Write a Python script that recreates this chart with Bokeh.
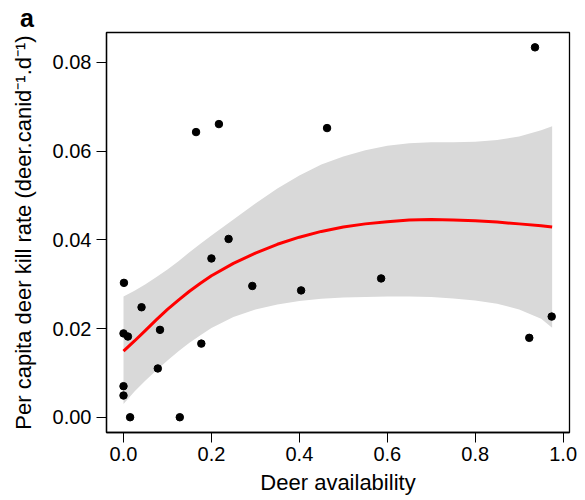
from bokeh.plotting import figure
from bokeh.models import Range1d, FixedTicker, NumeralTickFormatter, ColumnDataSource
from bokeh.embed import file_html
from bokeh.resources import INLINE

# ---- data ----
deer_avail = [0.001, 0.041, 0.000, 0.010, 0.083, 0.200, 0.293, 0.404, 0.177, 0.078,
              0.000, 0.000, 0.015, 0.128, 0.165, 0.217, 0.239, 0.936, 0.463, 0.586,
              0.923, 0.974]
kill_rate = [0.0303, 0.0248, 0.0189, 0.0182, 0.0197, 0.0358, 0.0296, 0.0286, 0.0166, 0.0110,
             0.0070, 0.0049, 0.0000, 0.0000, 0.0643, 0.0661, 0.0402, 0.0834, 0.0652, 0.0313,
             0.0179, 0.0227]

fit_x = [0.0, 0.025, 0.05, 0.075, 0.10, 0.125, 0.15, 0.175, 0.20, 0.25, 0.30, 0.35, 0.40, 0.45, 0.50,
         0.55, 0.60, 0.65, 0.70, 0.75, 0.80, 0.85, 0.90, 0.95, 0.975]
fit_y = [0.0149, 0.0172, 0.0196, 0.0220, 0.0243, 0.0264, 0.0284, 0.0302, 0.0319, 0.0347, 0.0370,
         0.0390, 0.0406, 0.0419, 0.0429,
         0.0436, 0.0441, 0.0445, 0.0446, 0.0445, 0.0443, 0.0440, 0.0436, 0.0432, 0.0429]
ci_upper = [0.0272, 0.0285, 0.0300, 0.0316, 0.0333, 0.0352, 0.0372, 0.0391, 0.0410, 0.0446, 0.0482,
            0.0516, 0.0545, 0.0570, 0.0588,
            0.0602, 0.0612, 0.0618, 0.0620, 0.0620, 0.0621, 0.0625, 0.0633, 0.0647, 0.0656]
ci_lower = [0.0030, 0.0058, 0.0083, 0.0106, 0.0128, 0.0149, 0.0168, 0.0185, 0.0201, 0.0226, 0.0243,
            0.0254, 0.0262, 0.0267, 0.0270,
            0.0271, 0.0272, 0.0272, 0.0271, 0.0268, 0.0263, 0.0256, 0.0243, 0.0222, 0.0202]

x_ticks = [0.0, 0.2, 0.4, 0.6, 0.8, 1.0]
y_ticks = [0.00, 0.02, 0.04, 0.06, 0.08]

FONT = "Liberation Sans"

p = figure(width=580, height=500, output_backend="svg", toolbar_location=None,
           x_range=Range1d(-0.0387, 1.0145), y_range=Range1d(-0.00344, 0.08675),
           min_border_left=106, min_border_right=11, min_border_top=31, min_border_bottom=68)

p.background_fill_color = "white"
p.border_fill_color = "white"
p.outline_line_color = "black"
p.outline_line_width = 1.3
p.xgrid.visible = False
p.ygrid.visible = False

band = ColumnDataSource(dict(x=fit_x, lo=ci_lower, hi=ci_upper, y=fit_y))
p.varea(x="x", y1="lo", y2="hi", source=band, fill_color="#d9d9d9", fill_alpha=1.0)
p.line(x="x", y="y", source=band, line_color="#ff0000", line_width=3)
p.scatter(deer_avail, kill_rate, size=7.5, fill_color="black", line_color="black")

for ax in (p.xaxis[0], p.yaxis[0]):
    ax.axis_line_color = "black"
    ax.axis_line_width = 1.3
    ax.major_tick_line_color = "black"
    ax.minor_tick_line_color = None
    ax.major_tick_out = 10
    ax.major_tick_in = 0
    ax.major_label_text_font = FONT
    ax.major_label_text_font_size = "20px"
    ax.major_label_text_color = "black"
    ax.axis_label_text_font = FONT
    ax.axis_label_text_font_size = "22px"
    ax.axis_label_text_font_style = "normal"
    ax.axis_label_text_color = "black"

p.xaxis.ticker = FixedTicker(ticks=x_ticks)
p.yaxis.ticker = FixedTicker(ticks=y_ticks)
p.xaxis.formatter = NumeralTickFormatter(format="0.0")
p.yaxis.formatter = NumeralTickFormatter(format="0.00")
p.xaxis.major_label_standoff = 4
p.yaxis.major_label_standoff = 5
p.yaxis.major_label_orientation = "horizontal"
p.xaxis.axis_label = "Deer availability"
p.yaxis.axis_label = "Per capita deer kill rate (deer.canid\u207b\u00b9.d\u207b\u00b9)"
p.xaxis.axis_label_standoff = 6
p.yaxis.axis_label_standoff = 14

p.title.text = "a"
p.title.align = "left"
p.title.offset = -86.5
p.title.standoff = 2
p.title.text_font = FONT
p.title.text_font_size = "25px"
p.title.text_font_style = "bold"
p.title.text_color = "black"

open("out.html", "w").write(file_html(p, INLINE))
